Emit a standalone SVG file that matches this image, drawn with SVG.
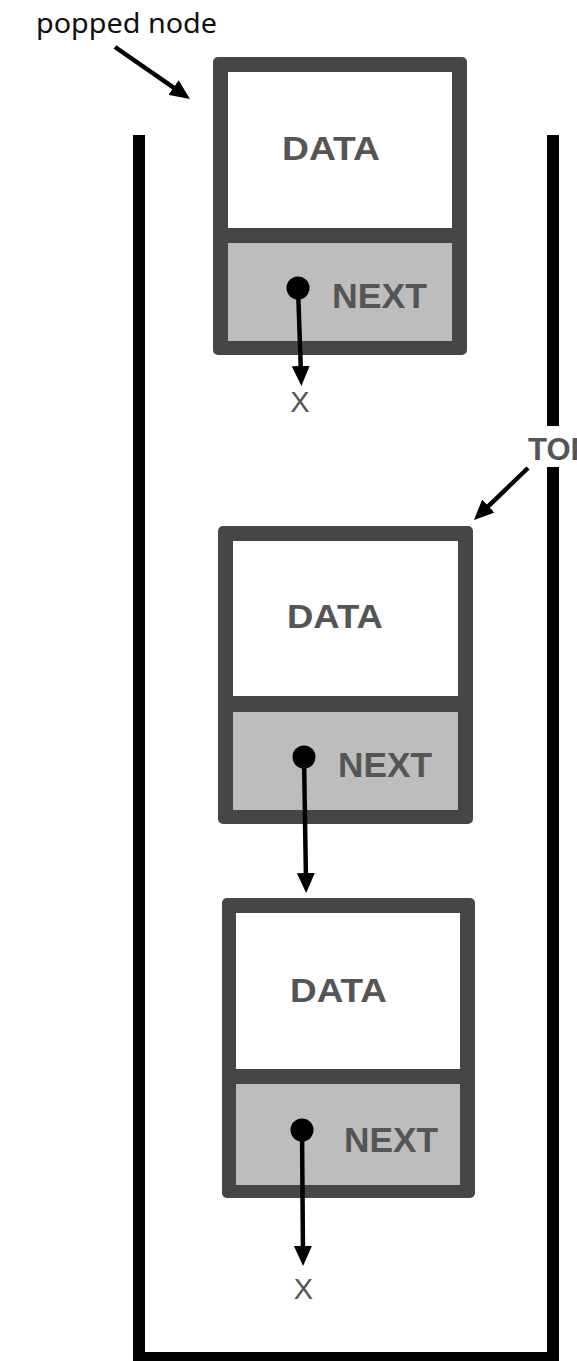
<svg xmlns="http://www.w3.org/2000/svg" width="577" height="1361" viewBox="0 0 577 1361">
  <style>
    .frame { fill: #464646; }
    .data { fill: #ffffff; }
    .next { fill: #bdbdbd; }
    .lbl { font-family: "Liberation Sans", Arial, sans-serif; font-weight: bold; fill: #555555; }
    .x { font-family: "Liberation Sans", Arial, sans-serif; font-size: 29px; fill: #555555; text-anchor: middle; }
    .wall { fill: none; stroke: #000000; stroke-width: 12; stroke-linejoin: miter; stroke-linecap: butt; }
    .conn { fill: none; stroke: #000000; stroke-width: 4.5; marker-end: url(#ah); }
    .dot { fill: #000000; }
  </style>
  <defs>
    <marker id="ah" markerUnits="userSpaceOnUse" markerWidth="20" markerHeight="18" viewBox="0 0 20 18" refX="8" refY="9" orient="auto">
      <path d="M0,0 L20,9 L0,18 z" fill="#000000"/>
    </marker>
  </defs>
  <rect width="577" height="1361" fill="#ffffff"/>

  <g id="stack">
    <path class="wall" d="M139,135 V1358 H553 V467"/>
    <path class="wall" d="M553,135 V426"/>
  </g>

  <g id="label-popped">
    <text x="36" y="33" font-family="'Noto Sans', 'Open Sans', sans-serif" font-size="28" fill="#111111" textLength="181" lengthAdjust="spacingAndGlyphs">popped node</text>
  </g>

  <g id="label-top">
    <text class="lbl" x="528" y="460" font-size="31">TOP</text>
  </g>

  <g id="node1">
    <rect class="frame" x="213" y="57" width="254" height="298" rx="5"/>
    <rect class="data" x="228" y="72" width="224" height="156"/>
    <rect class="next" x="228" y="243" width="224" height="98"/>
    <text class="lbl" x="282" y="160" font-size="33" textLength="98" lengthAdjust="spacingAndGlyphs">DATA</text>
    <text class="lbl" x="332" y="308" font-size="35" textLength="95" lengthAdjust="spacingAndGlyphs">NEXT</text>
    <circle class="dot" cx="298" cy="288" r="11.5"/>
  </g>

  <g id="node2">
    <rect class="frame" x="218" y="526" width="255" height="298" rx="5"/>
    <rect class="data" x="233" y="541" width="225" height="155"/>
    <rect class="next" x="233" y="712" width="225" height="98"/>
    <text class="lbl" x="287" y="628" font-size="33" textLength="96" lengthAdjust="spacingAndGlyphs">DATA</text>
    <text class="lbl" x="338" y="777" font-size="35" textLength="94" lengthAdjust="spacingAndGlyphs">NEXT</text>
    <circle class="dot" cx="304" cy="757" r="11.5"/>
  </g>

  <g id="node3">
    <rect class="frame" x="222" y="898" width="253" height="300" rx="5"/>
    <rect class="data" x="236" y="913" width="224" height="156"/>
    <rect class="next" x="236" y="1084" width="224" height="101"/>
    <text class="lbl" x="290" y="1002" font-size="33" textLength="97" lengthAdjust="spacingAndGlyphs">DATA</text>
    <text class="lbl" x="344" y="1152" font-size="35" textLength="94" lengthAdjust="spacingAndGlyphs">NEXT</text>
    <circle class="dot" cx="302" cy="1130" r="11.5"/>
  </g>

  <g id="connectors">
    <line class="conn" x1="115" y1="47" x2="180.1" y2="92.1"/>
    <line class="conn" x1="528" y1="468" x2="482.6" y2="511.7"/>
    <line class="conn" x1="298" y1="288" x2="301" y2="374"/>
    <line class="conn" x1="304" y1="757" x2="306" y2="881"/>
    <line class="conn" x1="302" y1="1130" x2="303" y2="1254"/>
  </g>

  <g id="null-labels">
    <text class="x" x="300" y="412">X</text>
    <text class="x" x="303.5" y="1299">X</text>
  </g>
</svg>
